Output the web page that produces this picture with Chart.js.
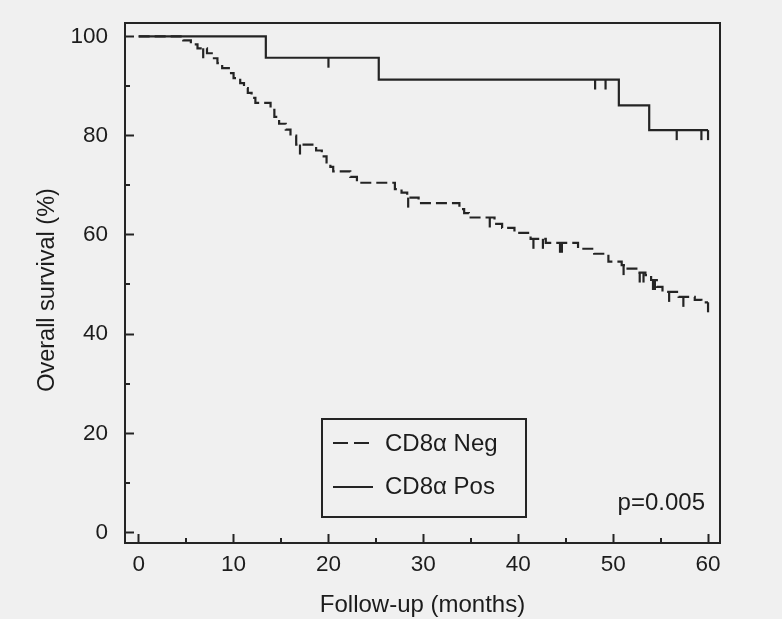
<!DOCTYPE html>
<html><head><meta charset="utf-8">
<script src="https://cdn.jsdelivr.net/npm/chart.js@4"></script>
<style>html,body{margin:0;padding:0;background:#f0f0f0;}#wrap{width:782px;height:619px;}</style>
</head><body><div id="wrap"><canvas id="c" width="782" height="619"></canvas></div>
<script>
const xTicks = [0, 10, 20, 30, 40, 50, 60];
const yTicks = [0, 20, 40, 60, 80, 100];
const xMinorTicks = [5, 15, 25, 35, 45, 55];
const yMinorTicks = [10, 30, 50, 70, 90];
const seriesLabels = ['CD8\u03b1 Neg', 'CD8\u03b1 Pos'];
const pValueText = 'p=0.005';
const xTitle = 'Follow-up (months)';
const yTitle = 'Overall survival (%)';

const negTimes = [0, 4.7, 5.5, 6.2, 7.2, 7.7, 8.3, 8.8, 9.5, 10.0, 10.7, 11.1, 11.5, 11.9, 12.3, 13.9, 14.3, 14.8, 15.5, 16.0, 16.6, 18.7, 19.3, 19.8, 20.2, 20.5, 22.3, 23.0, 27.0, 27.7, 28.3, 29.5, 33.8, 34.3, 34.8, 37.5, 38.3, 39.6, 41.3, 42.9, 46.3, 48.0, 49.5, 50.9, 51.4, 52.6, 53.4, 54.0, 54.6, 55.2, 56.9, 58.6, 59.3, 60];
const negSurv  = [100, 99.2, 98.4, 97.6, 96.6, 95.6, 94.6, 93.6, 92.6, 91.6, 90.6, 89.6, 88.6, 87.6, 86.6, 85.2, 83.8, 82.4, 81.2, 80.0, 78.2, 77.0, 75.8, 74.6, 73.7, 72.8, 71.7, 70.5, 69.2, 68.5, 67.5, 66.4, 65.2, 64.4, 63.5, 62.2, 61.4, 60.4, 59.2, 58.4, 57.2, 56.2, 54.6, 53.9, 53.2, 52.4, 51.9, 50.9, 49.5, 48.5, 47.5, 46.9, 46.4, 46.4];
const negCensorTimes = [6.8, 17.0, 28.4, 37.0, 41.6, 42.6, 44.4, 44.6, 51.1, 52.8, 53.2, 54.2, 54.4, 55.9, 57.4, 60.0];

const posTimes = [0, 13.4, 25.3, 50.6, 53.8, 60];
const posSurv  = [100, 95.7, 91.3, 86.1, 81.1, 81.1];
const posCensorTimes = [20.0, 48.1, 49.2, 56.7, 59.3, 60.0];

const INK = '#242424';
const TXT = '#1c1c1c';
const FONT = "'Liberation Sans', Arial, Helvetica, sans-serif";

function survAt(times, surv, t) {
  let s = surv[0];
  for (let i = 0; i < times.length; i++) { if (times[i] <= t) s = surv[i]; }
  return s;
}
const toPts = (ts, ss) => ts.map((t, i) => ({x: t, y: ss[i]}));
// censor marks hang ~10px below the curve: centre 1 unit below the level
const censorPts = (cts, ts, ss) => cts.map(t => ({x: t, y: survAt(ts, ss, t) - 1.0}));

const decor = {
  id: 'decor',
  beforeDraw(chart) {
    const {ctx, width, height} = chart;
    ctx.save(); ctx.fillStyle = '#f0f0f0'; ctx.fillRect(0, 0, width, height); ctx.restore();
  },
  afterDatasetsDraw(chart) {
    const {ctx, chartArea: ca, scales: {x, y}} = chart;
    ctx.save();
    ctx.strokeStyle = INK; ctx.lineWidth = 2;
    ctx.strokeRect(ca.left, ca.top, ca.right - ca.left, ca.bottom - ca.top);
    // minor ticks
    ctx.beginPath();
    xMinorTicks.forEach(v => { const px = Math.round(x.getPixelForValue(v)); ctx.moveTo(px, ca.bottom); ctx.lineTo(px, ca.bottom - 5); });
    yMinorTicks.forEach(v => { const py = Math.round(y.getPixelForValue(v)); ctx.moveTo(ca.left, py); ctx.lineTo(ca.left + 5, py); });
    ctx.stroke();
    // y axis title
    ctx.fillStyle = TXT;
    ctx.font = '23.5px ' + FONT;
    ctx.textBaseline = 'middle'; ctx.textAlign = 'center';
    ctx.save(); ctx.translate(48, (ca.top + ca.bottom) / 2 + 7); ctx.rotate(-Math.PI / 2);
    ctx.fillText(yTitle, 0, 0); ctx.restore();
    // legend box
    const lx = 322, ly = 419, lw = 204, lh = 98;
    ctx.strokeRect(lx, ly, lw, lh);
    ctx.beginPath(); ctx.setLineDash([15, 6]);
    ctx.moveTo(333, 443); ctx.lineTo(369, 443); ctx.stroke();
    ctx.setLineDash([]);
    ctx.beginPath(); ctx.moveTo(333, 487); ctx.lineTo(373, 487); ctx.stroke();
    ctx.font = '24px ' + FONT;
    ctx.textAlign = 'left';
    ctx.fillText(seriesLabels[0], 385, 444);
    ctx.fillText(seriesLabels[1], 385, 487);
    ctx.textAlign = 'right';
    ctx.fillText(pValueText, 705, 503);
    ctx.restore();
  }
};

new Chart(document.getElementById('c'), {
  type: 'line',
  data: {
    datasets: [
      {label: seriesLabels[0], data: toPts(negTimes, negSurv), stepped: 'before', borderColor: INK, borderWidth: 2.2, borderDash: [11, 5], pointRadius: 0, fill: false},
      {label: seriesLabels[1], data: toPts(posTimes, posSurv), stepped: 'before', borderColor: INK, borderWidth: 2.2, pointRadius: 0, fill: false},
      {label: 'neg censored', data: censorPts(negCensorTimes, negTimes, negSurv), showLine: false, pointStyle: 'line', rotation: 90, pointRadius: 5, pointBorderWidth: 2.2, pointBorderColor: INK, pointBackgroundColor: INK},
      {label: 'pos censored', data: censorPts(posCensorTimes, posTimes, posSurv), showLine: false, pointStyle: 'line', rotation: 90, pointRadius: 5, pointBorderWidth: 2.2, pointBorderColor: INK, pointBackgroundColor: INK}
    ]
  },
  options: {
    responsive: false, animation: false, devicePixelRatio: 1,
    layout: {padding: {left: 0, top: 23, right: 62, bottom: 0}},
    plugins: {legend: {display: false}, tooltip: {enabled: false}},
    scales: {
      x: {
        type: 'linear', min: -1.44, max: 61.26,
        afterBuildTicks: s => { s.ticks = xTicks.map(v => ({value: v})); },
        afterFit: s => { s.height = 76; s.paddingLeft = 0; s.paddingRight = 0; },
        ticks: {font: {family: FONT, size: 22.5}, color: TXT, padding: 17, maxRotation: 0, autoSkip: false},
        grid: {drawOnChartArea: false, drawTicks: true, tickLength: -9, tickWidth: 2, tickColor: INK},
        border: {display: false},
        title: {display: true, text: xTitle, color: TXT, font: {family: FONT, size: 24, lineHeight: 1.1}, padding: {top: 0, bottom: 0}}
      },
      y: {
        type: 'linear', min: -2.1, max: 102.7,
        afterBuildTicks: s => { s.ticks = yTicks.map(v => ({value: v})); },
        afterFit: s => { s.width = 125; s.paddingTop = 0; s.paddingBottom = 0; },
        ticks: {font: {family: FONT, size: 22.5}, color: TXT, padding: 26, autoSkip: false},
        grid: {drawOnChartArea: false, drawTicks: true, tickLength: -9, tickWidth: 2, tickColor: INK},
        border: {display: false},
        title: {display: false, text: yTitle}
      }
    }
  },
  plugins: [decor]
});
</script></body></html>
